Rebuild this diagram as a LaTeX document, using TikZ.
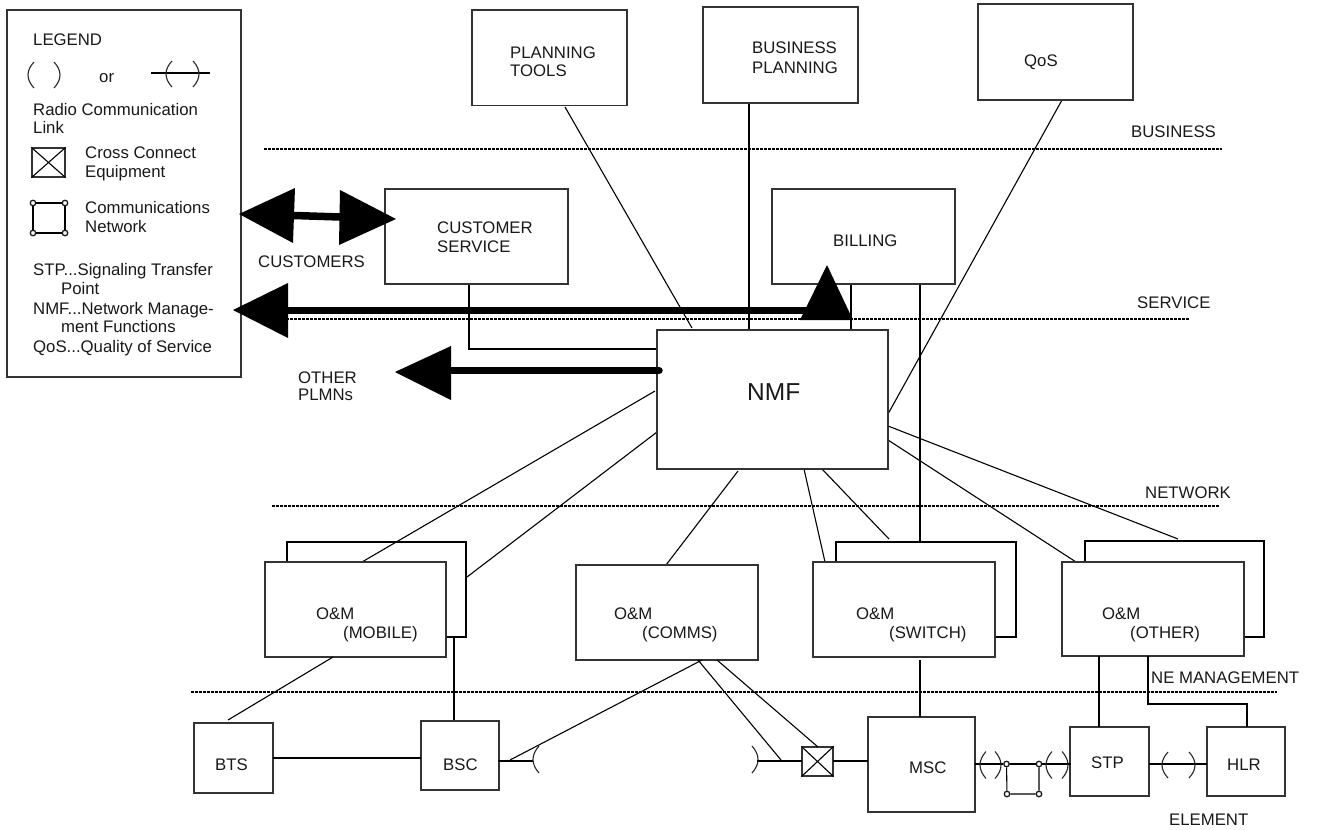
\documentclass[tikz,border=0pt]{standalone}
\usepackage{fontspec}
\setmainfont{Liberation Sans}
\tikzset{
  box/.style={draw=black!80,line width=1.1pt,fill=white,inner sep=0pt,rectangle},
  backbox/.style={box,draw=black,line width=2pt},
  lbl/.style={inner sep=0pt,anchor=base west,text=black!90,font=\fontsize{16.75}{18}\selectfont},
  thin line/.style={draw=black,line width=1.1pt},
  heavy/.style={draw=black,line width=2.2pt},
  thick arrow/.style={draw=black,line width=7.5pt},
  head/.style={fill=black,draw=none},
  sep line/.style={draw=black,line width=1.5pt,dash pattern=on 3pt off 1pt},
  radio/.style={draw=black!85,line width=1.1pt},
  tiny/.style={circle,draw=black!90,line width=1.3pt,fill=white,inner sep=0pt,minimum size=5.5pt},
}
\newcommand{\bx}[5]{\node[box,minimum width=#4pt-#2pt,minimum height=1pt*#5-1pt*#3] (#1) at ({(#2+#4)/2},{(#3+#5)/2}) {};}
\newcommand{\bkbx}[5]{\node[backbox,minimum width=#4pt-#2pt,minimum height=1pt*#5-1pt*#3] (#1) at ({(#2+#4)/2},{(#3+#5)/2}) {};}
\newcommand{\opn}[3]{\draw[radio] (#1+5,#2-#3) .. controls (#1-3,#2-#3/3) and (#1-3,#2+#3/3) .. (#1+5,#2+#3);}
\newcommand{\cls}[3]{\draw[radio] (#1-5,#2-#3) .. controls (#1+3,#2-#3/3) and (#1+3,#2+#3/3) .. (#1-5,#2+#3);}
\begin{document}
\begin{tikzpicture}[x=1pt,y=-1pt]
\useasboundingbox (0,0) rectangle (1318,830);
% separator lines
\coordinate (sa1) at (264,149); \coordinate (sa2) at (1222,149);
\coordinate (sb1) at (262,319); \coordinate (sb2) at (1190,319);
\coordinate (sc1) at (272,506); \coordinate (sc2) at (1220,506);
\coordinate (sd1) at (191,692); \coordinate (sd2) at (1277,692);
\draw[sep line] (sa1) -- (sa2);
\draw[sep line] (sb1) -- (sb2);
\draw[sep line] (sc1) -- (sc2);
\draw[sep line] (sd1) -- (sd2);
% legend
\bx{legend}{7}{10}{241}{377}
\node[lbl] (tlegend) at (33,45) {LEGEND};
\opn{29}{75}{13}
\cls{59}{75}{13}
\node[lbl] (tor) at (99,82) {or};
\coordinate (la) at (151,73); \coordinate (lb) at (210,73);
\draw[heavy,line width=1.6pt] (la) -- (lb);
\opn{167}{74}{13}
\cls{198}{74}{13}
\node[lbl] (tradio) at (33,115) {Radio Communication};
\node[lbl] (tlink) at (33,133) {Link};
\bx{lx}{32}{148}{65}{177}
\draw[thin line] (lx.north west) -- (lx.south east);
\draw[thin line] (lx.north east) -- (lx.south west);
\node[lbl] (tcc) at (85,158) {Cross Connect};
\node[lbl] (teq) at (85,177) {Equipment};
\node[tiny] (ln1) at (33,203) {};
\node[tiny] (ln2) at (65,203) {};
\node[tiny] (ln3) at (33,233) {};
\node[tiny] (ln4) at (65,233) {};
\draw[thin line] (ln1) -- (ln2) -- (ln4) -- (ln3) -- (ln1);
\node[lbl] (tcm) at (85,213) {Communications};
\node[lbl] (tnw) at (85,232) {Network};
\node[lbl] (t1) at (33,275) {STP...Signaling Transfer};
\node[lbl] (t2) at (61,294) {Point};
\node[lbl] (t3) at (33,314) {NMF...Network Manage-};
\node[lbl] (t4) at (61,332) {ment Functions};
\node[lbl] (t5) at (33,352) {QoS...Quality of Service};
% stacked back boxes
\bkbx{mobback}{287}{542}{466}{637}
\bkbx{swback}{836}{542}{1016}{637}
\bkbx{othback}{1085}{541}{1264}{637}
% connectors behind boxes
\coordinate (c1a) at (565,107); \coordinate (c1b) at (692,328);
\draw[thin line] (c1a) -- (c1b);
\coordinate (c2a) at (749,103); \coordinate (c2b) at (749,329);
\draw[heavy] (c2a) -- (c2b);
\coordinate (c3a) at (1062,100); \coordinate (c3b) at (888,414);
\draw[thin line] (c3a) -- (c3b);
\coordinate (c4a) at (851,284); \coordinate (c4b) at (851,330);
\draw[heavy] (c4a) -- (c4b);
\coordinate (c5a) at (920,284); \coordinate (c5b) at (920,542);
\draw[heavy] (c5a) -- (c5b);
\coordinate (c6a) at (469,284); \coordinate (c6b) at (469,349); \coordinate (c6c) at (657,349);
\draw[heavy] (c6a) -- (c6b) -- (c6c);
\coordinate (c7a) at (655,391); \coordinate (c7b) at (362,562);
\draw[thin line] (c7a) -- (c7b);
\coordinate (c8a) at (657,432); \coordinate (c8b) at (467,577);
\draw[thin line] (c8a) -- (c8b);
\coordinate (c9a) at (738,471); \coordinate (c9b) at (666,565);
\draw[thin line] (c9a) -- (c9b);
\coordinate (c10a) at (804,469); \coordinate (c10b) at (825,562);
\draw[thin line] (c10a) -- (c10b);
\coordinate (c11a) at (822,469); \coordinate (c11b) at (889,539);
\draw[thin line] (c11a) -- (c11b);
\coordinate (c12a) at (888,440); \coordinate (c12b) at (1076,562);
\draw[thin line] (c12a) -- (c12b);
\coordinate (c13a) at (888,426); \coordinate (c13b) at (1178,539);
\draw[thin line] (c13a) -- (c13b);
% top boxes
\bx{plan}{472}{10}{627}{105.5}
\node[lbl] (tp1) at (510,58) {PLANNING};
\node[lbl] (tp2) at (510,76) {TOOLS};
\bx{bus}{703}{7}{858}{103}
\node[lbl] (tb1) at (752,53) {BUSINESS};
\node[lbl] (tb2) at (752,73) {PLANNING};
\bx{qos}{978}{4}{1133}{100}
\node[lbl] (tq) at (1024,66) {QoS};
\bx{cust}{385}{189}{568}{284}
\node[lbl] (tc1) at (437,233) {CUSTOMER};
\node[lbl] (tc2) at (437,252) {SERVICE};
\bx{bill}{772}{189}{955}{284}
\node[lbl] (tbill) at (833,246) {BILLING};
\bx{nmf}{657}{330}{888}{469}
\node[lbl,font=\fontsize{24.5}{26}\selectfont] (tnmf) at (747,400) {NMF};
% side labels
\node[lbl] (tbusiness) at (1131,137) {BUSINESS};
\node[lbl] (tservice) at (1137,308) {SERVICE};
\node[lbl] (tnetwork) at (1145,498) {NETWORK};
\node[lbl] (tne) at (1151,683) {NE MANAGEMENT};
\node[lbl] (telement) at (1169,825) {ELEMENT};
\node[lbl] (tcustomers) at (258,267) {CUSTOMERS};
\node[lbl] (tother) at (298,383) {OTHER};
\node[lbl] (tplmn) at (298,400) {PLMNs};
% thick arrows
\coordinate (a1a) at (294,215.5); \coordinate (a1b) at (340,217);
\draw[thick arrow] (a1a) -- (a1b);
\fill[head] (239,214) -- (295,188) -- (293,243) -- cycle;
\fill[head] (396,219) -- (340,190) -- (339,245) -- cycle;
\coordinate (a2a) at (288,310.5); \coordinate (a2b) at (810,310.5);
\draw[thick arrow] (a2a) -- (a2b);
\fill[head] (233,310) -- (288,283) -- (288,338) -- cycle;
\fill[head] (827,265) -- (800,320) -- (853,320) -- cycle;
\coordinate (a3a) at (450,370.5); \coordinate (a3b) at (659,370.5);
\draw[thick arrow,line cap=round] (a3a) -- (a3b);
\fill[head] (395,372) -- (451,346) -- (451,400) -- cycle;
% element connectors under O&M boxes
\coordinate (e2a) at (454,637); \coordinate (e2b) at (454,721);
\draw[heavy] (e2a) -- (e2b);
% O&M boxes
\bx{mob}{265}{562}{446}{657}
\node[lbl] (tm1) at (316,619) {O\&M};
\node[lbl] (tm2) at (343,638) {(MOBILE)};
\bx{com}{576}{565}{758}{660}
\node[lbl] (tm3) at (614,619) {O\&M};
\node[lbl] (tm4) at (642,638) {(COMMS)};
\bx{sw}{813}{562}{995}{657}
\node[lbl] (tm5) at (856,619) {O\&M};
\node[lbl] (tm6) at (889,638) {(SWITCH)};
\bx{oth}{1062}{562}{1244}{656}
\node[lbl] (tm7) at (1102,619) {O\&M};
\node[lbl] (tm8) at (1130,638) {(OTHER)};
% element boxes
\bx{bts}{194}{723}{273}{793}
\node[lbl] (tbts) at (215,770) {BTS};
\bx{bsc}{421}{721}{499}{790}
\node[lbl] (tbsc) at (443,770) {BSC};
\bx{xc}{802}{747}{833}{776}
\draw[thin line] (xc.north west) -- (xc.south east);
\draw[thin line] (xc.north east) -- (xc.south west);
\bx{msc}{868}{717}{975}{812}
\node[lbl] (tmsc) at (909,773) {MSC};
\bx{stp}{1070}{727}{1149}{796}
\node[lbl] (tstp) at (1091,768) {STP};
\bx{hlr}{1207}{727}{1285}{796}
\node[lbl] (thlr) at (1227,770) {HLR};
% element connectors
\coordinate (e1a) at (333,657); \coordinate (e1b) at (228,720);
\draw[thin line] (e1a) -- (e1b);
\coordinate (e3a) at (273,758); \coordinate (e3b) at (421,758);
\draw[heavy] (e3a) -- (e3b);
\coordinate (e4a) at (498,761); \coordinate (e4b) at (533,761);
\draw[heavy] (e4a) -- (e4b);
\opn{534}{759.5}{13.5}
\cls{757}{759.5}{13.5}
\coordinate (e5a) at (757,761); \coordinate (e5b) at (802,761);
\draw[heavy] (e5a) -- (e5b);
\coordinate (e6a) at (833,761); \coordinate (e6b) at (868,761);
\draw[heavy] (e6a) -- (e6b);
\coordinate (e7a) at (702,660); \coordinate (e7b) at (510,760);
\draw[thin line] (e7a) -- (e7b);
\coordinate (e8a) at (698,660); \coordinate (e8b) at (781,760);
\draw[thin line] (e8a) -- (e8b);
\coordinate (e9a) at (717,660); \coordinate (e9b) at (818,747);
\draw[thin line] (e9a) -- (e9b);
\coordinate (e10a) at (920,660); \coordinate (e10b) at (920,717);
\draw[heavy] (e10a) -- (e10b);
\coordinate (e11a) at (1099,656); \coordinate (e11b) at (1099,727);
\draw[heavy] (e11a) -- (e11b);
\coordinate (e12a) at (1148,656); \coordinate (e12b) at (1148,704); \coordinate (e12c) at (1247,704); \coordinate (e12d) at (1247,727);
\draw[heavy] (e12a) -- (e12b) -- (e12c) -- (e12d);
% radio + network chain
\node[tiny] (n1) at (1006.5,764) {};
\node[tiny] (n2) at (1039,764) {};
\node[tiny] (n3) at (1007,794) {};
\node[tiny] (n4) at (1039,794) {};
\draw[thin line] (n1) -- (n3) -- (n4) -- (n2);
\coordinate (e13a) at (975,764); \coordinate (e13b) at (1071,764);
\draw[heavy] (e13a) -- (n1);
\draw[heavy] (n1) -- (n2);
\draw[heavy] (n2) -- (e13b);
\opn{981}{765}{13.5}
\cls{1000}{765}{13.5}
\opn{1047}{765}{13.5}
\cls{1067}{765}{13.5}
\coordinate (e14a) at (1149,764); \coordinate (e14b) at (1207,764);
\draw[heavy] (e14a) -- (e14b);
\opn{1163}{765}{13}
\cls{1194}{765}{13}
\end{tikzpicture}
\end{document}
